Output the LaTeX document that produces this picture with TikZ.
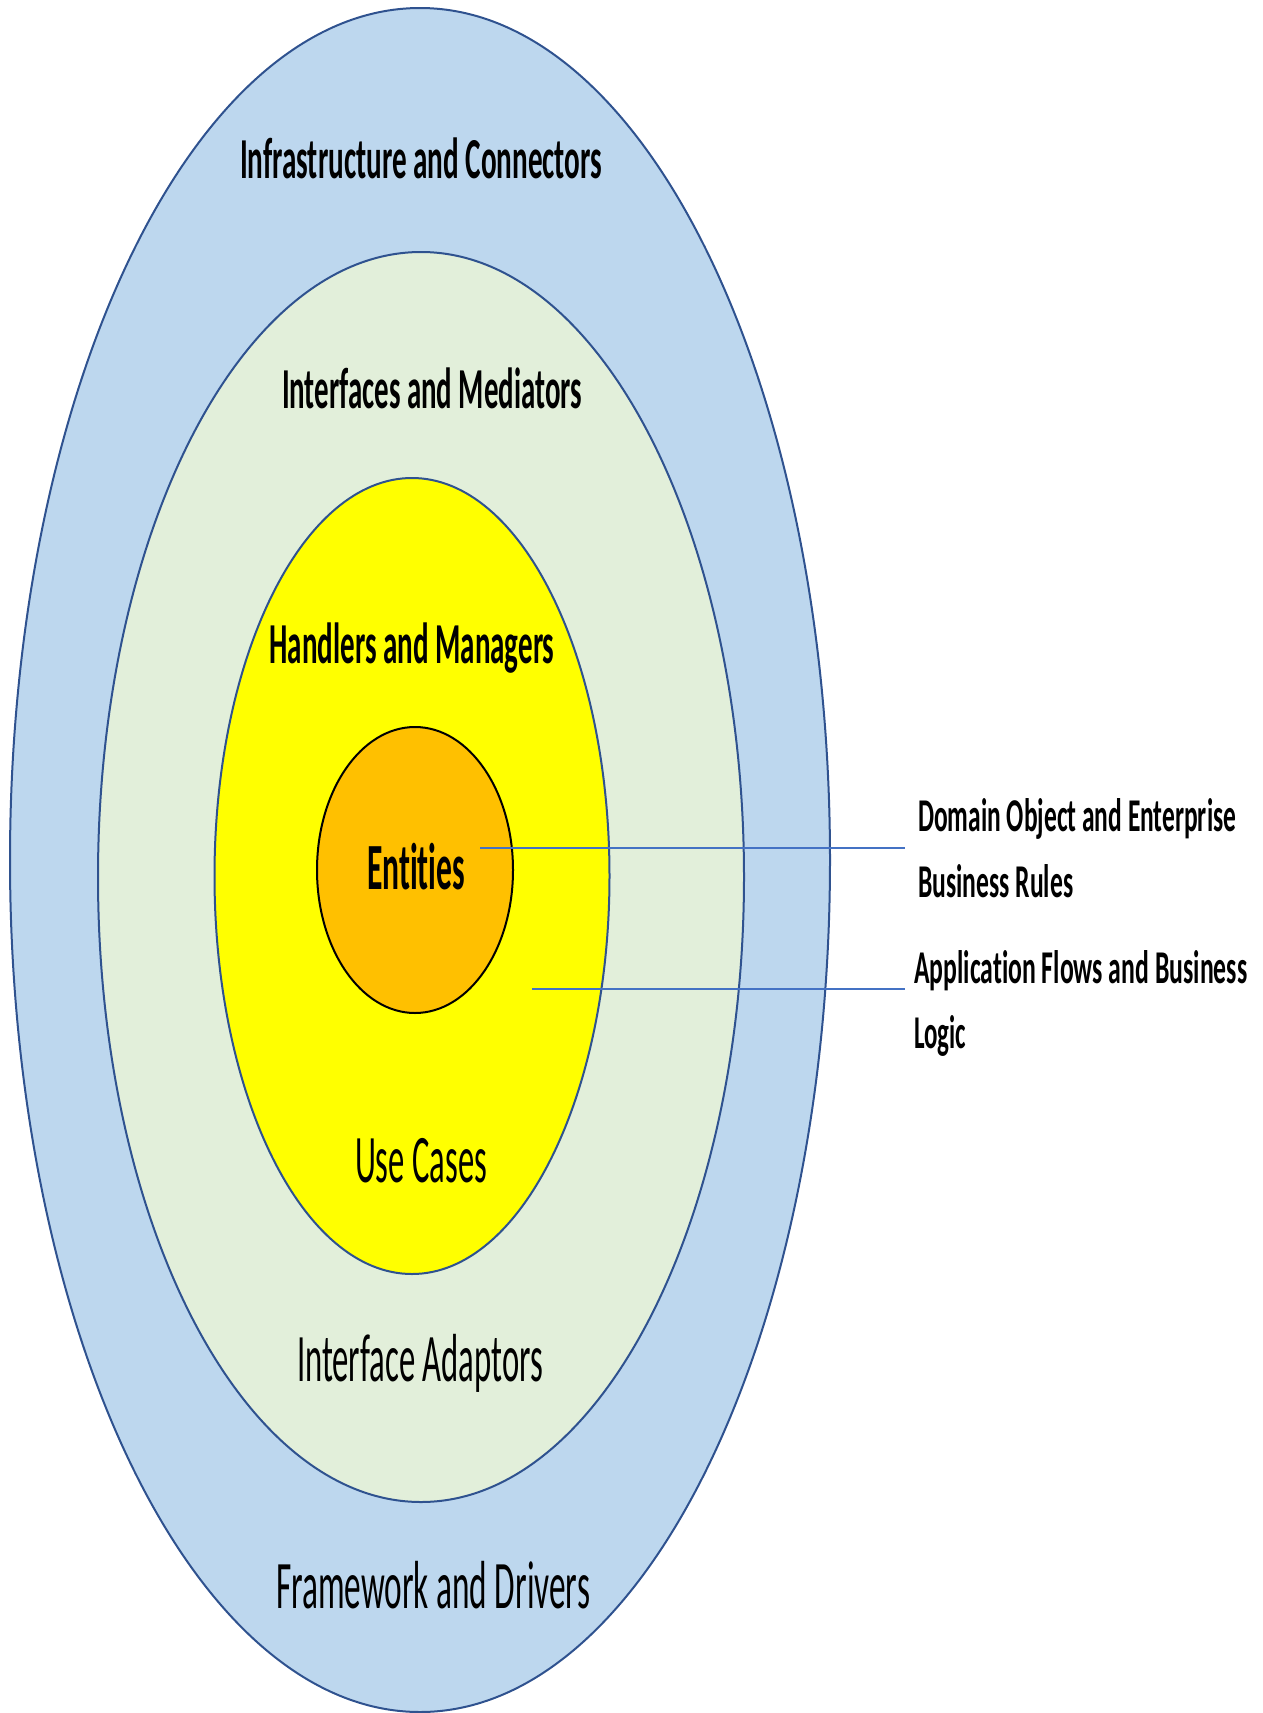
\documentclass[tikz,border=0pt]{standalone}
\usepackage{fontspec}
\setmainfont{Carlito}[Ligatures={NoCommon,NoRare,NoContextual}]
\usepackage{graphicx}
\usetikzlibrary{shapes.geometric}

\definecolor{ringline}{RGB}{47,82,143}
\definecolor{outerfill}{RGB}{189,215,238}
\definecolor{midfill}{RGB}{226,239,218}
\definecolor{corefill}{RGB}{255,255,0}
\definecolor{entfill}{RGB}{255,192,0}
\definecolor{leader}{RGB}{68,114,196}

% set a label to a fixed width, keeping its natural height
\newcommand\fitw[2]{\resizebox{#1pt}{\height}{#2}}

\begin{document}
\begin{tikzpicture}[x=1pt,y=-1pt,
  ring/.style={ellipse, draw=ringline, line width=2pt, inner sep=0pt},
  lbl/.style={anchor=base, inner sep=0pt, text=black},
  boldlbl/.style={lbl, font=\bfseries\fontsize{58}{62}\selectfont},
  plainlbl/.style={lbl, font=\fontsize{68}{72}\selectfont},
  note/.style={anchor=base west, inner sep=0pt, text=black, font=\bfseries\fontsize{47}{52}\selectfont},
  leaderline/.style={draw=leader, line width=1.6pt}]

\useasboundingbox (0,0) rectangle (1262,1713);

% concentric layers
\node[ring, fill=outerfill, minimum width=820pt, minimum height=1704pt] (framework) at (420,860) {};
\node[ring, fill=midfill, minimum width=646pt, minimum height=1250pt] (adapters) at (421,877) {};
\node[ring, fill=corefill, minimum width=395pt, minimum height=796pt] (usecaselayer) at (412,876) {};
\node[ellipse, draw=black, line width=2pt, inner sep=0pt, fill=entfill, minimum width=196pt, minimum height=286pt] (core) at (415,870) {};

% layer names
\node[boldlbl] (infra) at (421,178) {\fitw{362}{Infrastructure and Connectors}};
\node[boldlbl] (iface) at (432,408) {\fitw{300}{Interfaces and Mediators}};
\node[boldlbl] (handlers) at (412,663) {\fitw{285}{Handlers and Managers}};
\node[lbl, font=\bfseries\fontsize{66}{70}\selectfont] (entities) at (416,889) {\fitw{98}{Entities}};
\node[plainlbl] (usecases) at (421,1182) {\fitw{132}{Use Cases}};
\node[plainlbl] (adaptors) at (420,1381) {\fitw{246}{Interface Adaptors}};
\node[plainlbl] (drivers) at (433,1608) {\fitw{314}{Framework and Drivers}};

% side notes
\node[note] (domainA) at (918,831) {\fitw{318}{Domain Object and Enterprise}};
\node[note] (domainB) at (918,897) {\fitw{155}{Business Rules}};
\node[note] (flowA) at (914,983) {\fitw{333}{Application Flows and Business}};
\node[note] (flowB) at (914,1048) {\fitw{52}{Logic}};

% leader lines
\coordinate (dtip) at (480,848);
\coordinate (dend) at (905,848);
\coordinate (ftip) at (532,989);
\coordinate (fend) at (905,989);
\draw[leaderline] (dtip) -- (dend);
\draw[leaderline] (ftip) -- (fend);
\end{tikzpicture}
\end{document}
